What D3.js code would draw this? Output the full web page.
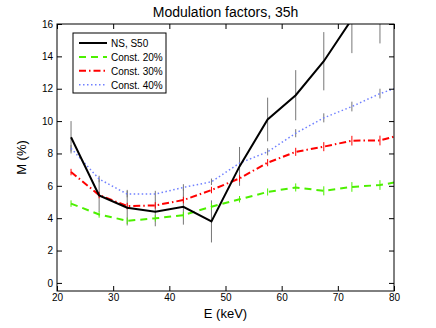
<!DOCTYPE html>
<html>
<head>
<meta charset="utf-8">
<script src="https://cdn.jsdelivr.net/npm/d3@7"></script>
<style>
  body { margin: 0; background: #fff; }
  text { font-family: "Liberation Sans", Arial, sans-serif; }
</style>
</head>
<body>
<svg id="chart"></svg>
<script>
const width = 436;
const height = 328;
const margin = {left: 57, right: 42, top: 24, bottom: 37};

// data
const energy = [22.5, 27.5, 32.5, 37.5, 42.5, 47.5, 52.5, 57.5, 62.5, 67.5, 72.5, 77.5];
const energyModel = [22.5, 27.5, 32.5, 37.5, 42.5, 47.5, 52.5, 57.5, 62.5, 67.5, 72.5, 77.5, 80];
const nsS50 = [9.0, 5.4, 4.65, 4.4, 4.7, 3.8, 7.2, 10.1, 11.6, 13.7, 16.3, 17.0];
const nsS50Err = [1.0, 1.0, 1.1, 0.9, 1.1, 1.3, 1.2, 1.35, 1.55, 1.8, 2.1, 2.2];
const const20 = [4.9, 4.23, 3.84, 3.99, 4.19, 4.71, 5.17, 5.62, 5.9, 5.69, 5.93, 6.05, 6.2];
const const30 = [6.85, 5.43, 4.75, 4.79, 5.12, 5.74, 6.46, 7.43, 8.1, 8.42, 8.79, 8.8, 9.04];
const const40 = [8.32, 6.42, 5.49, 5.49, 5.9, 6.25, 7.4, 8.1, 9.25, 10.2, 10.9, 11.7, 12.0];
const modelErr = [0.2, 0.2, 0.2, 0.2, 0.2, 0.2, 0.2, 0.22, 0.25, 0.28, 0.3, 0.3];
const xTicks = [20, 30, 40, 50, 60, 70, 80];
const yTicks = [0, 2, 4, 6, 8, 10, 12, 14, 16];

const series = [
  {name: 'NS, S50', x: energy, y: nsS50, err: nsS50Err, color: '#000', errColor: '#777', dash: null, w: 2},
  {name: 'Const. 20%', x: energyModel, y: const20, err: modelErr, color: '#4cf000', errColor: '#4cf000', dash: '7,5', w: 2},
  {name: 'Const. 30%', x: energyModel, y: const30, err: modelErr, color: '#ff0000', errColor: '#ff0000', dash: '7,3,1.5,3', w: 2},
  {name: 'Const. 40%', x: energyModel, y: const40, err: modelErr, color: '#7080ff', errColor: '#777', dash: '1.5,2.5', w: 1.5}
];

const innerW = width - margin.left - margin.right;
const innerH = height - margin.top - margin.bottom;

const svg = d3.select('#chart')
  .attr('width', width)
  .attr('height', height);

const g = svg.append('g')
  .attr('transform', `translate(${margin.left}, ${margin.top})`);

const xScale = d3.scaleLinear().domain([20, 80]).range([0, innerW]);
const yScale = d3.scaleLinear().domain([-0.5, 16]).range([innerH, 0]);

svg.append('defs').append('clipPath').attr('id', 'clip')
  .append('rect').attr('width', innerW).attr('height', innerH);

const plot = g.append('g').attr('clip-path', 'url(#clip)');

// error bars
series.forEach(s => {
  plot.append('g').selectAll('line')
    .data(s.err.map((e, i) => ({x: s.x[i], y: s.y[i], e: e})))
    .enter()
    .append('line')
    .attr('x1', d => xScale(d.x))
    .attr('x2', d => xScale(d.x))
    .attr('y1', d => yScale(d.y - d.e))
    .attr('y2', d => yScale(d.y + d.e))
    .attr('stroke', s.errColor)
    .attr('stroke-width', 1);
});

// lines
const line = d3.line()
  .x(d => xScale(d[0]))
  .y(d => yScale(d[1]));

series.slice().reverse().forEach(s => {
  plot.append('path')
    .datum(s.x.map((x, i) => [x, s.y[i]]))
    .attr('d', line)
    .attr('fill', 'none')
    .attr('stroke', s.color)
    .attr('stroke-width', s.w)
    .attr('stroke-dasharray', s.dash);
});

// axes, ticks inside on all four sides
const tickStyle = sel => {
  sel.select('.domain').remove();
  sel.selectAll('text').attr('font-size', 10).attr('fill', '#000');
  sel.selectAll('.tick line').attr('stroke', '#000');
};

g.append('g')
  .attr('transform', `translate(0, ${innerH})`)
  .call(d3.axisBottom(xScale).tickValues(xTicks).tickSizeInner(-5).tickSizeOuter(0).tickPadding(3))
  .call(tickStyle);
g.append('g')
  .call(d3.axisTop(xScale).tickValues(xTicks).tickSizeInner(-5).tickSizeOuter(0).tickFormat(''))
  .call(tickStyle);
g.append('g')
  .call(d3.axisLeft(yScale).tickValues(yTicks).tickSizeInner(-5).tickSizeOuter(0).tickPadding(4))
  .call(tickStyle);
g.append('g')
  .attr('transform', `translate(${innerW}, 0)`)
  .call(d3.axisRight(yScale).tickValues(yTicks).tickSizeInner(-5).tickSizeOuter(0).tickFormat(''))
  .call(tickStyle);

g.append('rect')
  .attr('width', innerW)
  .attr('height', innerH)
  .attr('fill', 'none')
  .attr('stroke', '#000')
  .attr('stroke-width', 1);

// title and axis labels
svg.append('text')
  .attr('x', margin.left + innerW / 2)
  .attr('y', 17)
  .attr('text-anchor', 'middle')
  .attr('font-size', 14)
  .text('Modulation factors, 35h');

svg.append('text')
  .attr('x', margin.left + innerW / 2)
  .attr('y', 318)
  .attr('text-anchor', 'middle')
  .attr('font-size', 13)
  .text('E (keV)');

svg.append('text')
  .attr('transform', `translate(26, ${margin.top + innerH / 2}) rotate(-90)`)
  .attr('text-anchor', 'middle')
  .attr('font-size', 13)
  .text('M (%)');

// legend
const legend = g.append('g').attr('transform', 'translate(16, 9)');
legend.append('rect')
  .attr('width', 93)
  .attr('height', 60)
  .attr('fill', '#fff')
  .attr('stroke', '#000')
  .attr('stroke-width', 1);

series.forEach((s, i) => {
  const row = legend.append('g').attr('transform', `translate(0, ${10 + i * 13.9})`);
  row.append('line')
    .attr('x1', 6).attr('x2', 34)
    .attr('stroke', s.color)
    .attr('stroke-width', s.w)
    .attr('stroke-dasharray', s.dash);
  row.append('text')
    .attr('x', 38)
    .attr('y', 4)
    .attr('font-size', 10)
    .text(s.name);
});
</script>
</body>
</html>
